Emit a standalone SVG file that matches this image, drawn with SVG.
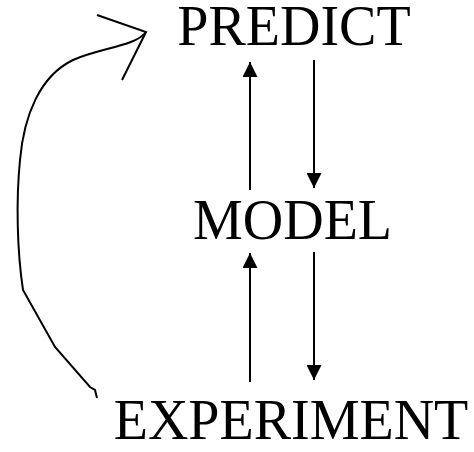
<svg xmlns="http://www.w3.org/2000/svg" width="474" height="452" viewBox="0 0 474 452">
<style>
text{font-family:"Liberation Serif","Times New Roman",serif;font-size:56px;fill:#000;text-anchor:middle}
.c{stroke:#000;stroke-width:2;fill:none}
</style>
<defs>
<marker id="ah" viewBox="0 0 10 10" refX="10" refY="5" markerWidth="15" markerHeight="15" markerUnits="userSpaceOnUse" orient="auto">
<path d="M0,0 L10,5 L0,10 Z" fill="#000"/>
</marker>
</defs>
<rect width="474" height="452" fill="#fff"/>
<g id="predict"><text x="294" y="45">PREDICT</text></g>
<g id="model"><text x="292.5" y="239">MODEL</text></g>
<g id="experiment"><text x="291" y="439">EXPERIMENT</text></g>
<g id="connectors">
<line class="c" x1="250" y1="190" x2="250" y2="62" marker-end="url(#ah)"/>
<line class="c" x1="314" y1="60" x2="314" y2="188" marker-end="url(#ah)"/>
<line class="c" x1="250" y1="382" x2="250" y2="253" marker-end="url(#ah)"/>
<line class="c" x1="314" y1="252" x2="314" y2="380" marker-end="url(#ah)"/>
<path class="c" d="M97,398 L95,390 L90,387 L55,347 L23,290 C17,250 16,200 20,160 C24,115 40,76 73,60 C100,48 136,46 146,32"/>
<path class="c" d="M97,15 L146,32 L122,80"/>
</g>
</svg>
